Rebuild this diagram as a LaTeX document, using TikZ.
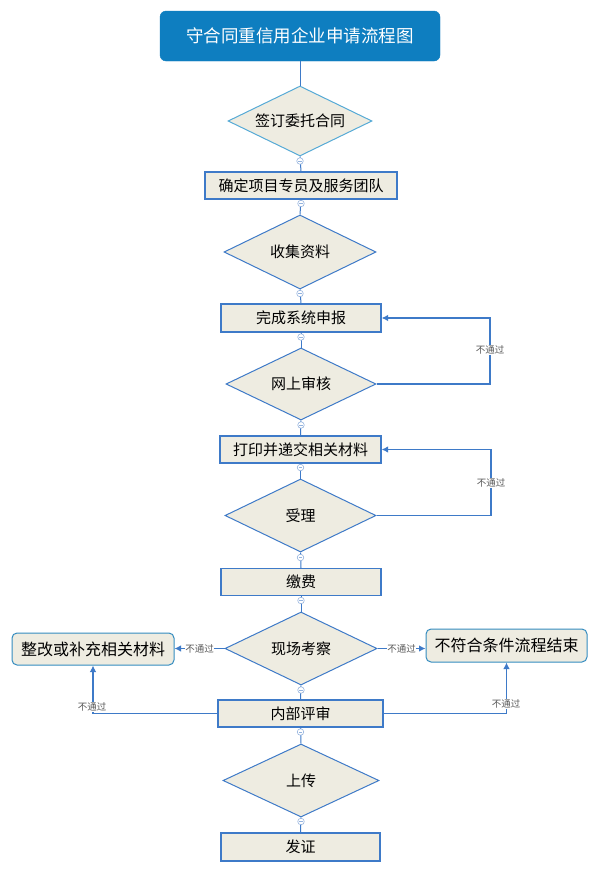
\documentclass[tikz,border=0pt]{standalone}
\usepackage{fontspec}
\setmainfont{Noto Sans CJK SC}
\usetikzlibrary{shapes.geometric,arrows.meta}
\definecolor{titlefill}{RGB}{14,126,192}
\definecolor{nodefill}{RGB}{238,236,225}
\definecolor{boxline}{RGB}{62,122,200}
\definecolor{dialine}{RGB}{86,170,214}
\definecolor{rndline}{RGB}{52,140,192}
\definecolor{flowline}{RGB}{62,122,200}
\definecolor{markcol}{RGB}{150,180,222}
\tikzset{
  titlebox/.style={draw=titlefill,fill=titlefill,rounded corners=6pt,minimum width=280pt,minimum height=50pt,text=white,font=\fontsize{17.5}{20}\selectfont,inner sep=0pt},
  stepbox/.style={draw=boxline,line width=1.2pt,fill=nodefill,minimum height=27pt,inner sep=0pt,font=\fontsize{15}{17}\selectfont},
  decbox/.style={diamond,draw=boxline,line width=1pt,fill=nodefill,shape aspect=2,inner sep=0pt,font=\fontsize{15}{17}\selectfont},
  endbox/.style={draw=rndline,line width=1pt,fill=nodefill,rounded corners=5pt,inner sep=0pt,font=\fontsize{16}{18}\selectfont},
  flow/.style={draw=flowline,line width=1pt},
  fb/.style={draw=flowline,line width=1.1pt,-{Latex[length=6.5pt,width=6.5pt]}},
  lbl/.style={font=\fontsize{9.5}{11}\selectfont,text=black!65,fill=white,inner sep=0.5pt},
  collapsemark/.style={circle,draw=markcol,fill=white,line width=0.6pt,minimum size=6.5pt,inner sep=0pt,
    path picture={\draw[draw=markcol,line width=0.6pt] ([xshift=-1.6pt]path picture bounding box.center) -- ([xshift=1.6pt]path picture bounding box.center);}}
}
\begin{document}
\begin{tikzpicture}[x=1pt,y=-1pt]
\useasboundingbox (0,0) rectangle (600,873);
\fill[white] (0,0) rectangle (600,873);

\node[titlebox] (t) at (300,36) {守合同重信用企业申请流程图};
\node[decbox,draw=dialine,minimum width=144pt,minimum height=70pt] (d1) at (300,121) {签订委托合同};
\node[stepbox,minimum width=192pt] (b2) at (301,185.5) {确定项目专员及服务团队};
\node[decbox,minimum width=152pt,minimum height=74pt] (d3) at (300,252) {收集资料};
\node[stepbox,minimum width=160pt,minimum height=28pt] (b4) at (301,318) {完成系统申报};
\node[decbox,minimum width=150pt,minimum height=72pt] (d5) at (301,384) {网上审核};
\node[stepbox,minimum width=161pt] (b6) at (300.5,449.5) {打印并递交相关材料};
\node[decbox,minimum width=151pt,minimum height=73pt] (d7) at (300.5,515.5) {受理};
\node[stepbox,minimum width=160pt] (b8) at (301,582) {缴费};
\node[decbox,minimum width=152pt,minimum height=73pt] (d9) at (301,648.5) {现场考察};
\node[stepbox,minimum width=165pt] (b10) at (300.5,713.5) {内部评审};
\node[endbox,minimum width=162pt,minimum height=32pt] (lb) at (93,649) {整改或补充相关材料};
\node[endbox,minimum width=161pt,minimum height=33pt] (rb) at (506.5,645.5) {不符合条件流程结束};
\node[decbox,minimum width=156pt,minimum height=73pt] (d11) at (301,780.5) {上传};
\node[stepbox,minimum width=159pt,minimum height=28pt] (b12) at (300.5,847) {发证};

% main flow
\draw[flow] (t.south) -- (d1.north);
\draw[flow] (d1.south) -- (b2.north);
\draw[flow] (b2.south) -- (d3.north);
\draw[flow] (d3.south) -- (b4.north);
\draw[flow] (b4.south) -- (d5.north);
\draw[flow] (d5.south) -- (b6.north);
\draw[flow] (b6.south) -- (d7.north);
\draw[flow] (d7.south) -- (b8.north);
\draw[flow] (b8.south) -- (d9.north);
\draw[flow] (d9.south) -- (b10.north);
\draw[flow] (b10.south) -- (d11.north);
\draw[flow] (d11.south) -- (b12.north);

% feedback loops
\coordinate (k1) at (490,318);
\draw[fb] (d5.east) -| (k1) -- (b4.east);
\node[lbl] (l1) at (490,350) {不通过};
\coordinate (k2) at (491,449.5);
\draw[fb] (d7.east) -| (k2) -- (b6.east);
\node[lbl] (l2) at (491,483) {不通过};

\draw[fb] (d9.west) -- (d9.west -| lb.east) node[lbl,midway] (l3) {不通过};
\draw[fb] (d9.east) -- (d9.east -| rb.west) node[lbl,midway] (l4) {不通过};
\draw[fb] (b10.west) -| (lb.south);
\node[lbl] (l5) at (92,707) {不通过};
\draw[fb] (b10.east) -| (rb.south);
\node[lbl] (l6) at (506,704) {不通过};

% collapse markers
\node[collapsemark] (m1) at (300,161) {};
\node[collapsemark] (m2) at (301,203.5) {};
\node[collapsemark] (m3) at (300,293.5) {};
\node[collapsemark] (m4) at (301,337) {};
\node[collapsemark] (m5) at (301,425) {};
\node[collapsemark] (m6) at (300.5,467.5) {};
\node[collapsemark] (m7) at (300.5,557.5) {};
\node[collapsemark] (m8) at (301,600.5) {};
\node[collapsemark] (m9) at (301,690) {};
\node[collapsemark] (m10) at (300.5,732) {};
\node[collapsemark] (m11) at (301,821.5) {};
\end{tikzpicture}
\end{document}
